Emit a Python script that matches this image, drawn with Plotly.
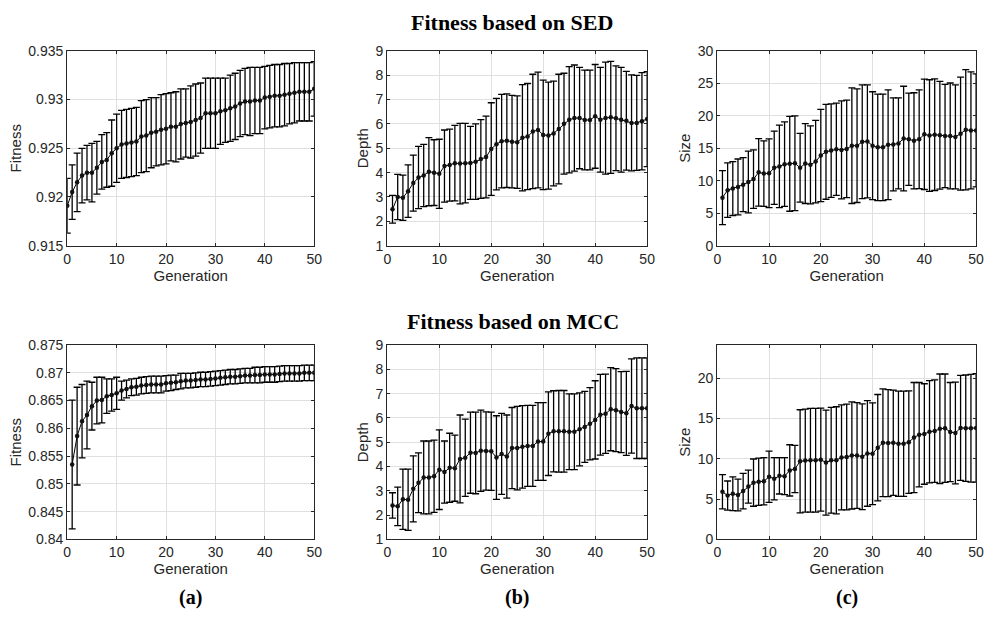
import plotly.graph_objects as go

# ---- data: mean and standard deviation per generation ----
gen_sed_fit = list(range(0, 51))
gen = list(range(1, 51))

sed_fitness_mean = [0.9191, 0.9205, 0.9215, 0.9222, 0.9225, 0.9225, 0.9230, 0.9236, 0.9238, 0.9245,
                    0.9250, 0.9254, 0.9255, 0.9256, 0.9257, 0.9262, 0.9263, 0.9266, 0.9267, 0.9269,
                    0.9270, 0.9272, 0.9272, 0.9275, 0.9276, 0.9277, 0.9279, 0.9281, 0.9286, 0.9286,
                    0.9286, 0.9288, 0.9289, 0.9291, 0.9293, 0.9296, 0.9298, 0.9298, 0.9299, 0.9299,
                    0.9302, 0.9303, 0.9304, 0.9304, 0.9305, 0.9306, 0.9307, 0.9308, 0.9308, 0.9308,
                    0.9311]
sed_fitness_std = [0.0028, 0.0028, 0.0030, 0.0028, 0.0028, 0.0030, 0.0027, 0.0028, 0.0028, 0.0034,
                   0.0035, 0.0035, 0.0035, 0.0035, 0.0035, 0.0037, 0.0037, 0.0036, 0.0035, 0.0036,
                   0.0036, 0.0035, 0.0036, 0.0036, 0.0035, 0.0037, 0.0037, 0.0036, 0.0036, 0.0036,
                   0.0036, 0.0034, 0.0033, 0.0034, 0.0034, 0.0034, 0.0034, 0.0035, 0.0034, 0.0034,
                   0.0032, 0.0032, 0.0032, 0.0032, 0.0032, 0.0031, 0.0031, 0.0030, 0.0030, 0.0030,
                   0.0028]

sed_depth_mean = [2.5, 3.0, 2.97, 3.24, 3.57, 3.8, 3.88, 4.04, 4.0, 3.95,
                  4.27, 4.31, 4.39, 4.37, 4.39, 4.4, 4.45, 4.56, 4.64, 4.97,
                  5.17, 5.29, 5.31, 5.27, 5.25, 5.43, 5.48, 5.69, 5.75, 5.55,
                  5.52, 5.61, 5.79, 6.01, 6.17, 6.24, 6.24, 6.16, 6.16, 6.31,
                  6.17, 6.24, 6.27, 6.23, 6.17, 6.13, 6.04, 6.04, 6.11, 6.2]
sed_depth_std = [0.57, 0.93, 0.93, 1.08, 1.15, 1.28, 1.28, 1.4, 1.35, 1.42,
                 1.48, 1.48, 1.55, 1.65, 1.63, 1.5, 1.55, 1.62, 1.68, 1.9,
                 1.88, 1.92, 1.92, 1.9, 1.9, 2.18, 2.18, 2.35, 2.38, 2.25,
                 2.2, 2.15, 2.25, 2.07, 2.18, 2.18, 2.08, 2.05, 2.05, 2.13,
                 2.15, 2.3, 2.3, 2.15, 2.15, 2.03, 1.97, 1.95, 2.0, 1.95]

sed_size_mean = [7.4, 8.55, 8.8, 9.05, 9.4, 9.8, 10.25, 11.3, 11.1, 11.15,
                 12.0, 12.2, 12.55, 12.6, 12.7, 12.0, 12.65, 12.45, 12.95, 13.9,
                 14.45, 14.65, 14.85, 14.75, 14.9, 15.4, 15.4, 16.0, 16.05, 15.4,
                 15.15, 15.15, 15.55, 15.6, 15.75, 16.5, 16.4, 16.15, 16.4, 17.15,
                 16.95, 17.1, 17.0, 16.9, 16.9, 16.75, 17.25, 17.85, 17.75, 17.75]
sed_size_std = [4.15, 4.2, 4.15, 4.3, 4.15, 4.75, 4.5, 5.2, 5.05, 5.3,
                5.65, 6.35, 6.5, 7.3, 7.3, 5.3, 6.15, 6.0, 6.35, 7.1,
                7.3, 7.2, 7.1, 7.55, 7.5, 8.9, 8.75, 8.75, 8.7, 8.3,
                8.2, 8.2, 8.45, 7.15, 7.0, 8.05, 7.1, 7.4, 7.6, 8.5,
                8.6, 8.6, 8.3, 7.95, 8.15, 8.0, 8.7, 9.25, 9.0, 8.7]

mcc_fitness_mean = [0.8535, 0.8586, 0.8613, 0.8624, 0.8640, 0.8650, 0.8651, 0.8658, 0.8660, 0.8663,
                    0.8668, 0.8671, 0.8674, 0.8675, 0.8677, 0.8678, 0.8679, 0.8679, 0.8679, 0.8681,
                    0.8682, 0.8683, 0.8685, 0.8686, 0.8686, 0.8687, 0.8688, 0.8688, 0.8689, 0.8690,
                    0.8691, 0.8692, 0.8693, 0.8693, 0.8694, 0.8695, 0.8695, 0.8696, 0.8696, 0.8697,
                    0.8697, 0.8697, 0.8698, 0.8699, 0.8699, 0.8699, 0.8699, 0.8700, 0.8700, 0.8700]
mcc_fitness_std = [0.0116, 0.0088, 0.0066, 0.0061, 0.0043, 0.0042, 0.0041, 0.0031, 0.0029, 0.0029,
                   0.0017, 0.0016, 0.0015, 0.0015, 0.0015, 0.0015, 0.0015, 0.0015, 0.0015, 0.0014,
                   0.0014, 0.0013, 0.0014, 0.0013, 0.0013, 0.0013, 0.0013, 0.0013, 0.0013, 0.0013,
                   0.0013, 0.0013, 0.0013, 0.0013, 0.0013, 0.0013, 0.0013, 0.0014, 0.0014, 0.0014,
                   0.0014, 0.0014, 0.0014, 0.0014, 0.0014, 0.0014, 0.0014, 0.0014, 0.0014, 0.0014]

mcc_depth_mean = [2.4, 2.36, 2.65, 2.63, 3.08, 3.33, 3.55, 3.55, 3.6, 3.87,
                  3.77, 3.95, 3.93, 4.31, 4.36, 4.57, 4.56, 4.65, 4.64, 4.63,
                  4.37, 4.52, 4.41, 4.76, 4.76, 4.81, 4.85, 4.85, 5.03, 5.03,
                  5.35, 5.45, 5.45, 5.45, 5.43, 5.43, 5.53, 5.63, 5.76, 5.92,
                  6.13, 6.17, 6.36, 6.32, 6.24, 6.19, 6.49, 6.4, 6.4, 6.4]
mcc_depth_std = [0.52, 0.79, 1.24, 1.26, 1.36, 1.23, 1.5, 1.5, 1.49, 1.64,
                 1.28, 1.42, 1.36, 1.81, 1.59, 1.67, 1.68, 1.67, 1.61, 1.61,
                 1.72, 1.67, 1.71, 1.67, 1.72, 1.7, 1.67, 1.67, 1.6, 1.6,
                 1.72, 1.67, 1.68, 1.68, 1.56, 1.56, 1.5, 1.46, 1.49, 1.61,
                 1.66, 1.63, 1.71, 1.71, 1.67, 1.73, 1.94, 2.07, 2.07, 2.07]

mcc_size_mean = [5.91, 5.43, 5.67, 5.51, 5.99, 6.55, 7.04, 7.16, 7.2, 7.76,
                 7.52, 7.88, 7.84, 8.56, 8.73, 9.69, 9.77, 9.81, 9.81, 9.89,
                 9.53, 9.81, 9.81, 10.17, 10.21, 10.41, 10.41, 10.25, 10.66, 10.62,
                 11.38, 11.98, 11.94, 11.98, 11.86, 11.86, 12.06, 12.63, 12.99, 13.07,
                 13.35, 13.43, 13.71, 13.79, 13.31, 13.19, 13.83, 13.79, 13.79, 13.83]
mcc_size_std = [2.13, 1.81, 2.09, 1.97, 2.21, 2.05, 2.93, 2.93, 2.93, 3.18,
                2.61, 2.25, 2.29, 3.18, 2.93, 6.39, 6.39, 6.43, 6.43, 6.39,
                6.51, 6.56, 6.64, 6.52, 6.56, 6.64, 6.56, 6.56, 6.55, 6.31,
                6.59, 6.68, 6.64, 6.52, 6.52, 6.52, 6.36, 6.83, 6.47, 6.23,
                6.35, 6.35, 6.8, 6.72, 6.15, 6.31, 6.52, 6.6, 6.68, 6.72]

# tick labels
x_ticks = [0, 10, 20, 30, 40, 50]
sed_fit_ticks = [0.915, 0.92, 0.925, 0.93, 0.935]
sed_fit_labels = ["0.915", "0.92", "0.925", "0.93", "0.935"]
mcc_fit_ticks = [0.84, 0.845, 0.85, 0.855, 0.86, 0.865, 0.87, 0.875]
mcc_fit_labels = ["0.84", "0.845", "0.85", "0.855", "0.86", "0.865", "0.87", "0.875"]
depth_ticks = [1, 2, 3, 4, 5, 6, 7, 8, 9]
sed_size_ticks = [0, 5, 10, 15, 20, 25, 30]
mcc_size_ticks = [0, 5, 10, 15, 20]

# ---- layout geometry (pixels) ----
W, H = 993, 619
cols = [(64, 314), (388, 651), (722, 984)]
rows = [(44, 244), (346, 545.5)]

panels = [
    # (row, col, x, mean, std, yrange, tickvals, ticktext, ytitle)
    (0, 0, gen_sed_fit, sed_fitness_mean, sed_fitness_std, [0.915, 0.935], sed_fit_ticks, sed_fit_labels, "Fitness"),
    (0, 1, gen, sed_depth_mean, sed_depth_std, [1, 9], depth_ticks, [str(v) for v in depth_ticks], "Depth"),
    (0, 2, gen, sed_size_mean, sed_size_std, [0, 30], sed_size_ticks, [str(v) for v in sed_size_ticks], "Size"),
    (1, 0, gen, mcc_fitness_mean, mcc_fitness_std, [0.84, 0.875], mcc_fit_ticks, mcc_fit_labels, "Fitness"),
    (1, 1, gen, mcc_depth_mean, mcc_depth_std, [1, 9], depth_ticks, [str(v) for v in depth_ticks], "Depth"),
    (1, 2, gen, mcc_size_mean, mcc_size_std, [0, 24.1], mcc_size_ticks, [str(v) for v in mcc_size_ticks], "Size"),
]

AX_COLOR = "#262626"
GRID = "#e0e0e0"
TICK_FONT = dict(family="Liberation Sans, Arial, sans-serif", size=14, color=AX_COLOR)
LABEL_FONT = dict(family="Liberation Sans, Arial, sans-serif", size=15, color=AX_COLOR)

fig = go.Figure()
layout = {}
for i, (r, c, xs, mean, std, yr, tv, tt, ytitle) in enumerate(panels):
    n = "" if i == 0 else str(i + 1)
    fig.add_trace(go.Scatter(
        x=xs, y=mean,
        mode="lines+markers",
        line=dict(color="#000000", width=1),
        marker=dict(symbol="circle", size=4.5, color="#111111"),
        error_y=dict(type="data", array=std, visible=True,
                     color="#000000", thickness=1.3, width=3.5),
        xaxis="x" + n, yaxis="y" + n,
        showlegend=False, hoverinfo="skip",
    ))
    x0, x1 = cols[c]
    y0, y1 = rows[r]
    common = dict(
        showline=True, linecolor=AX_COLOR, linewidth=1.2, mirror="ticks",
        ticks="inside", ticklen=3, tickcolor=AX_COLOR, tickwidth=1,
        showgrid=True, gridcolor=GRID, gridwidth=1.4,
        zeroline=False, tickfont=TICK_FONT,
    )
    layout["xaxis" + n] = dict(
        domain=[x0 / W, x1 / W], range=[0, 50], anchor="y" + n,
        tickvals=x_ticks, ticktext=[str(v) for v in x_ticks],
        title=dict(text="Generation", font=LABEL_FONT, standoff=0),
        **common,
    )
    layout["yaxis" + n] = dict(
        domain=[1 - y1 / H, 1 - y0 / H], range=yr, anchor="x" + n,
        tickvals=tv, ticktext=tt,
        title=dict(text=ytitle, font=LABEL_FONT, standoff=3),
        **common,
    )

SERIF_BOLD = dict(family="Liberation Serif, Times New Roman, serif", size=22, color="#000000")
annotations = [
    dict(text="<b>Fitness based on SED</b>", x=514 / W, y=1 - 15 / H, font=SERIF_BOLD),
    dict(text="<b>Fitness based on MCC</b>", x=515 / W, y=1 - 322 / H, font=SERIF_BOLD),
]
for lab, cx in zip(["(a)", "(b)", "(c)"], [189, 519.5, 853]):
    annotations.append(dict(text="<b>" + lab + "</b>", x=cx / W, y=1 - 605 / H,
                            font=dict(family="Liberation Serif, Times New Roman, serif", size=20, color="#000000")))
for a in annotations:
    a.update(xref="paper", yref="paper", showarrow=False, xanchor="center", yanchor="middle")

fig.update_layout(
    width=W, height=H,
    margin=dict(l=0, r=0, t=0, b=0),
    paper_bgcolor="white", plot_bgcolor="white",
    annotations=annotations,
    **layout,
)

fig.write_html("out.html")
